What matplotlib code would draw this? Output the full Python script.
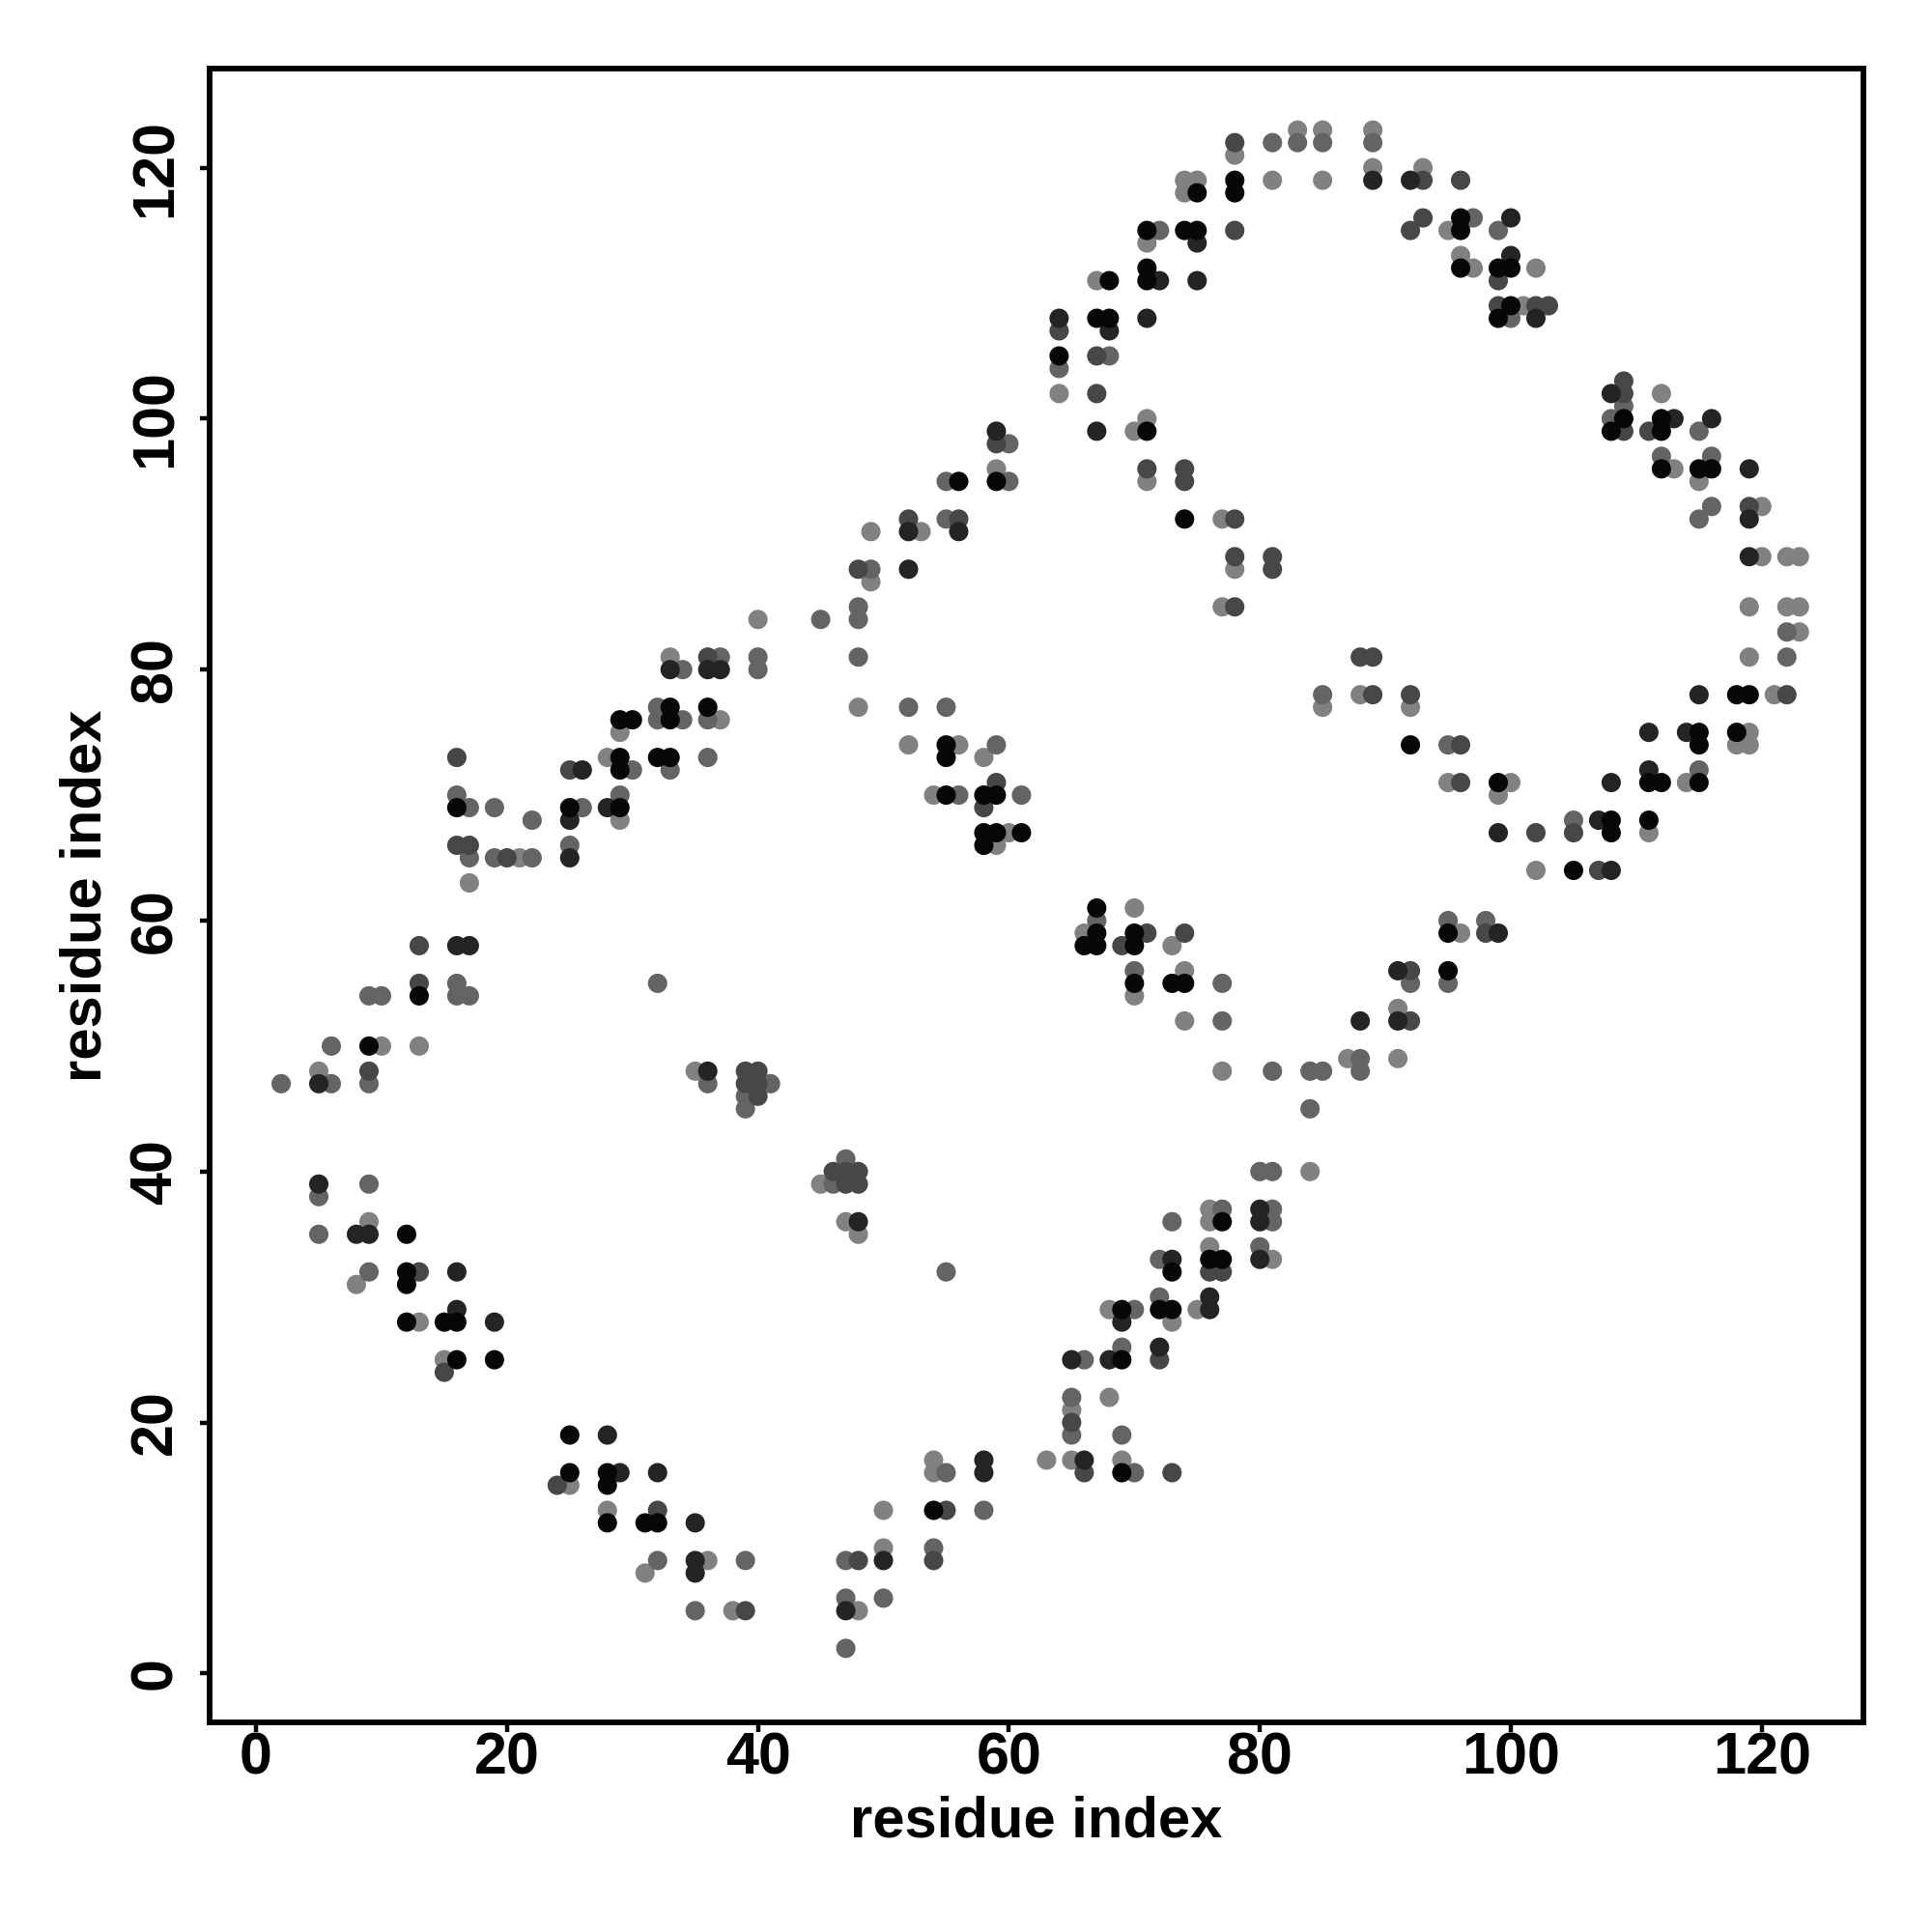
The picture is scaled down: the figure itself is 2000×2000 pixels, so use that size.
import matplotlib
matplotlib.use("Agg")
import matplotlib.pyplot as plt

# contact map: (residue i, residue j) pairs, grouped by contact score
score_levels = [0.1, 0.3, 0.5, 0.75, 0.95]

pts_light = [
    (40, 84), (33, 81), (85, 77),
    (83, 123), (85, 123), (78, 121), (74, 119), (75, 119), (81, 119), (85, 119), (74, 118),
    (71, 114), (67, 111), (64, 102), (70, 99), (71, 100), (59, 96), (71, 95), (77, 92),
    (49, 91), (53, 91), (49, 87), (78, 88), (77, 85),
    (89, 123), (89, 120), (93, 120), (95, 115), (96, 113), (97, 112), (102, 112), (101, 109),
    (112, 102), (113, 96), (115, 95), (120, 93), (120, 89), (122, 89), (123, 89), (119, 85),
    (122, 85), (123, 85), (123, 83), (119, 81),
    (88, 78), (121, 78), (92, 77), (119, 75), (118, 74), (119, 74), (95, 71), (100, 71),
    (114, 71), (99, 70), (111, 67), (102, 64), (96, 59), (91, 53), (87, 49), (91, 49),
    (48, 77), (52, 74), (56, 74), (58, 73), (54, 70), (60, 67), (59, 66), (70, 61), (66, 59),
    (73, 58), (74, 56), (70, 54), (74, 52), (77, 48), (84, 40), (45, 39), (47, 36), (48, 35),
    (76, 37), (76, 36), (76, 34),
    (37, 76), (29, 75), (28, 73), (29, 68), (21, 65), (17, 63), (10, 50), (13, 50), (5, 48),
    (35, 48), (9, 36),
    (8, 31), (13, 28), (15, 25), (25, 15), (28, 13), (36, 9), (31, 8), (38, 5),
    (81, 33), (68, 29), (75, 29), (73, 28), (68, 22), (65, 21), (54, 17), (63, 17), (65, 17),
    (69, 17), (54, 16), (50, 13), (50, 10), (48, 5),
]

pts_medium = [
    (34, 80), (37, 81), (40, 81), (40, 80),
    (81, 122), (83, 122), (85, 122), (72, 115), (68, 105), (64, 104), (60, 98), (55, 95),
    (60, 95), (55, 92), (49, 88), (48, 85), (45, 84), (48, 84), (48, 81),
    (89, 122), (97, 116), (99, 115), (100, 108), (109, 101), (108, 100), (115, 99), (112, 97),
    (116, 97), (116, 93), (115, 92), (122, 83), (122, 81),
    (95, 74), (115, 72), (105, 68), (95, 60), (98, 60), (92, 55), (95, 55), (88, 49), (88, 48),
    (85, 78), (52, 77), (55, 77), (59, 74), (56, 70), (61, 70), (67, 60), (70, 56), (77, 55),
    (77, 52), (81, 48), (84, 48), (85, 48), (84, 45), (47, 41), (80, 40), (81, 40), (46, 39),
    (77, 37), (81, 37), (73, 36), (81, 36), (80, 34),
    (32, 77), (32, 76), (34, 76), (36, 76), (36, 73), (30, 72), (33, 72), (16, 70), (29, 70),
    (17, 69), (19, 69), (26, 69), (22, 68), (25, 66), (17, 65), (19, 65), (22, 65), (16, 55),
    (9, 54), (10, 54), (16, 54), (17, 54), (32, 55), (6, 50), (2, 47), (6, 47), (9, 47),
    (36, 47), (41, 47), (39, 46), (39, 45), (9, 39), (5, 38), (5, 35),
    (9, 32), (32, 9), (39, 9), (35, 5),
    (55, 32), (72, 33), (72, 30), (70, 29), (69, 26), (66, 25), (65, 22), (65, 19), (69, 19),
    (55, 16), (70, 16), (58, 13), (54, 10), (47, 9), (47, 6), (50, 6), (47, 2),
]

pts_darkgray = [
    (36, 81),
    (78, 122), (78, 115), (64, 107), (67, 105), (67, 102), (59, 98), (71, 96), (74, 96),
    (74, 95), (52, 92), (56, 92), (48, 88), (78, 92), (78, 89), (81, 89), (81, 88), (78, 85),
    (93, 119), (96, 119), (93, 116), (92, 115), (99, 111), (99, 109), (102, 109), (103, 109),
    (109, 103), (109, 102), (109, 99), (111, 99), (119, 93), (88, 81), (89, 81),
    (89, 78), (92, 78), (122, 78), (96, 74), (96, 71), (102, 67), (105, 67), (107, 64),
    (98, 59), (92, 56), (92, 52),
    (59, 71), (58, 69), (71, 59), (74, 59), (69, 58), (46, 40), (47, 40), (48, 40), (47, 39),
    (48, 39),
    (16, 73), (25, 72), (16, 66), (17, 66), (20, 65), (13, 58), (13, 55), (9, 48), (39, 48),
    (40, 48), (39, 47), (40, 47), (40, 46),
    (13, 32), (15, 24), (24, 15), (32, 13), (39, 5),
    (76, 32), (77, 32), (66, 16), (73, 16), (72, 25), (65, 20), (55, 13), (48, 9), (54, 9),
]

pts_dark = [
    (33, 80), (36, 80), (37, 80),
    (64, 108), (71, 108), (68, 107), (75, 114), (72, 111), (75, 111), (67, 99), (59, 99),
    (52, 91), (56, 91), (52, 88),
    (89, 119), (92, 119), (100, 116), (100, 113), (102, 108), (108, 102), (113, 100),
    (116, 100), (119, 96), (119, 92), (119, 89),
    (115, 78), (111, 75), (114, 75), (111, 72), (108, 71), (107, 68), (99, 67), (108, 64),
    (99, 59), (91, 56), (88, 52), (91, 52),
    (48, 36), (80, 37), (80, 36),
    (26, 72), (28, 69), (25, 68), (25, 65), (16, 58), (17, 58), (36, 48), (5, 47), (5, 39),
    (8, 35), (9, 35),
    (16, 32), (16, 29), (19, 28), (28, 19), (29, 16), (32, 16), (35, 12), (35, 9), (35, 8),
    (73, 33), (80, 33), (76, 30), (76, 29), (69, 28), (72, 26), (65, 25), (68, 25), (58, 17),
    (66, 17), (58, 16), (50, 9), (47, 5),
]

pts_black = [
    (78, 119), (75, 118), (78, 118), (71, 115), (74, 115), (75, 115), (71, 112), (68, 111),
    (71, 111), (67, 108), (68, 108), (64, 105), (71, 99), (56, 95), (59, 95), (74, 92),
    (96, 116), (96, 115), (96, 112), (99, 112), (100, 112), (100, 109), (99, 108), (109, 100),
    (112, 100), (108, 99), (112, 99), (112, 96), (115, 96), (116, 96),
    (118, 78), (119, 78), (115, 75), (118, 75), (92, 74), (115, 74), (99, 71), (111, 71),
    (112, 71), (115, 71), (108, 68), (111, 68), (108, 67), (105, 64), (95, 59), (95, 56),
    (55, 74), (55, 73), (55, 70), (58, 70), (59, 70), (58, 67), (59, 67), (61, 67), (58, 66),
    (67, 61), (67, 59), (66, 58), (67, 58), (70, 58), (70, 59), (70, 55), (73, 55), (74, 55),
    (77, 36),
    (33, 77), (36, 77), (29, 76), (30, 76), (33, 76), (29, 73), (32, 73), (33, 73), (29, 72),
    (16, 69), (25, 69), (29, 69), (13, 54), (9, 50), (12, 35),
    (12, 32), (12, 31), (12, 28), (15, 28), (16, 28), (16, 25), (19, 25), (25, 19), (25, 16),
    (28, 16), (28, 15), (28, 12), (31, 12), (32, 12),
    (76, 33), (77, 33), (73, 32), (69, 29), (72, 29), (73, 29), (69, 25), (69, 16), (54, 13),
]

tick_vals = [0, 20, 40, 60, 80, 100, 120]
axis_label = "residue index"

plt.rcParams["font.family"] = ["Liberation Sans", "DejaVu Sans"]
plt.rcParams["font.weight"] = "bold"

fig = plt.figure(figsize=(10, 10), dpi=200)
ax = fig.add_axes([0.1085, 0.1085, 0.856, 0.856])

groups = [pts_light, pts_medium, pts_darkgray, pts_dark, pts_black]
for pts, score in zip(groups, score_levels):
    xs = [p[0] for p in pts]
    ys = [p[1] for p in pts]
    grey = 0.56 * (1 - score)
    ax.scatter(xs, ys, s=52, color=(grey, grey, grey), edgecolors="none", zorder=2)

ax.set_xlim(-3.7, 128.1)
ax.set_ylim(-3.9, 127.9)
ax.set_xticks(tick_vals)
ax.set_yticks(tick_vals)
ax.tick_params(direction="out", length=3.5, width=1.6, labelsize=22, pad=0)
ax.tick_params(axis="y", pad=6)
for lab in ax.get_yticklabels():
    lab.set_rotation(90)
    lab.set_va("center")
for sp in ax.spines.values():
    sp.set_linewidth(2.1)

ax.set_xlabel(axis_label, fontsize=21.5, fontweight="bold", labelpad=3)
ax.set_ylabel(axis_label, fontsize=21.5, fontweight="bold", labelpad=6)

fig.savefig("out.png", dpi=200, facecolor="white")
